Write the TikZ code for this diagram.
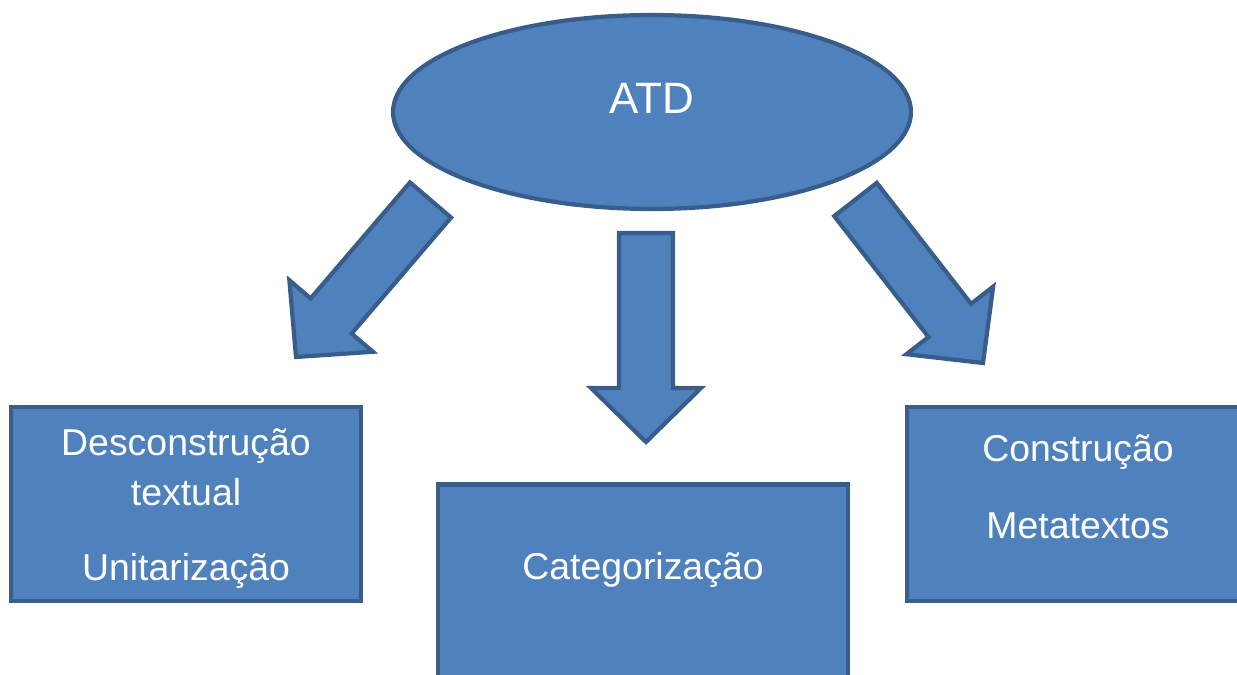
\documentclass[tikz,border=0pt]{standalone}
\usepackage{fontspec}
\setmainfont{Liberation Sans}
\usetikzlibrary{shapes.geometric, calc, positioning}
\definecolor{azul}{HTML}{4F81BD}
\definecolor{borda}{HTML}{385D8A}
\tikzset{
    caixa/.style={rectangle, draw=borda, fill=azul, line width=2.4pt, inner sep=0pt},
    elipse/.style={ellipse, draw=borda, fill=azul, line width=2.4pt, inner sep=0pt,
        minimum width=10.36cm, minimum height=3.88cm},
    texto/.style={text=white, font=\fontsize{21.3pt}{26pt}\selectfont, anchor=base, inner sep=0pt},
    titulo/.style={text=white, font=\fontsize{25pt}{30pt}\selectfont, inner sep=0pt},
    seta/.style={draw=borda, fill=azul, line width=2.4pt, line join=miter}}
% seta grossa de (#1) ate (#2)
\newcommand{\setabloco}[2]{%
    \coordinate (#1-base) at ($(#2)!1.08cm!(#1)$);
    \draw[seta] ($(#1)!0.54cm!90:(#2)$) -- ($(#1-base)!0.54cm!90:(#2)$)
        -- ($(#1-base)!1.1cm!90:(#2)$) -- (#2)
        -- ($(#1-base)!1.1cm!-90:(#2)$) -- ($(#1-base)!0.54cm!-90:(#2)$)
        -- ($(#1)!0.54cm!-90:(#2)$) -- cycle;}

\begin{document}
\begin{tikzpicture}[x=0.02cm, y=-0.02cm]
    \useasboundingbox (0,0) rectangle (1237,675);
    \clip (0,0) rectangle (1237,675);

    \node (atd) [elipse] at (652,112) {};
    \node (atdtxt) [titulo] at ([yshift=0.28cm]atd.center) {ATD};

    \node (desc) [caixa, minimum width=7.0cm, minimum height=3.88cm] at (186,504) {};
    \node (cat) [caixa, minimum width=8.2cm, minimum height=4.7cm] at (643,602) {};
    \node (cons) [caixa, minimum width=6.84cm, minimum height=3.88cm] at (1078,504) {};

    \node (desc1) [texto] at (186,455) {Desconstrução};
    \node (desc2) [texto] at (186,505) {textual};
    \node (desc3) [texto] at (186,580) {Unitarização};
    \node (cat1) [texto] at (643,579) {Categorização};
    \node (cons1) [texto] at (1078,461) {Construção};
    \node (cons2) [texto] at (1078,538) {Metatextos};

    % setas
    \coordinate (sesq) at (430.5,200);
    \coordinate (pesq) at (296,357);
    \coordinate (smeio) at (646,233);
    \coordinate (pmeio) at (646,442);
    \coordinate (sdir) at (855.5,199.5);
    \coordinate (pdir) at (983,363);
    \setabloco{sesq}{pesq}
    \setabloco{smeio}{pmeio}
    \setabloco{sdir}{pdir}
\end{tikzpicture}
\end{document}
